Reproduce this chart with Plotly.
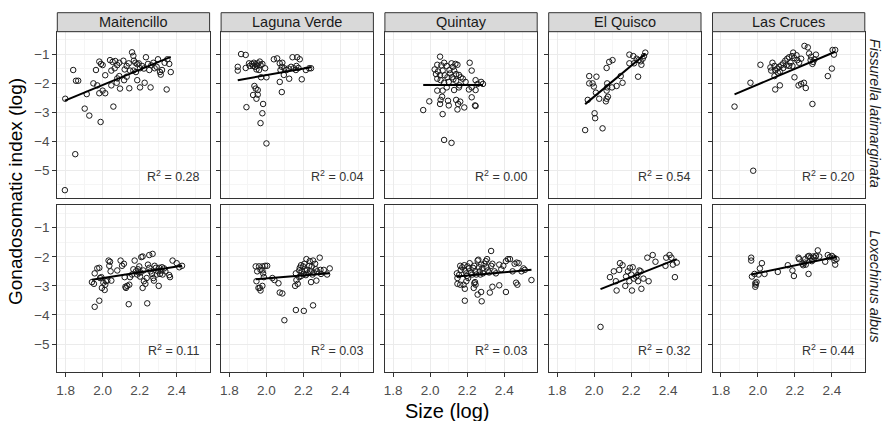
import plotly.graph_objects as go

# ---- data: log size (x) vs log gonadosomatic index (y) per site ----
sites = ["Maitencillo", "Laguna Verde", "Quintay", "El Quisco", "Las Cruces"]
species = ["Fissurella latimarginata", "Loxechinus albus"]

# Fissurella latimarginata
fis_maitencillo_x = [1.796, 1.798, 1.852, 1.841, 1.856, 1.868, 1.903, 1.928, 1.989, 1.914, 1.950, 1.964, 1.982, 1.991, 2.000,
                     1.971, 1.982, 2.000, 2.014, 2.058, 2.014, 2.040, 2.054, 2.068, 2.079, 2.090, 2.047, 2.065, 2.047, 2.079,
                     2.090, 2.076, 2.094, 2.112, 2.119, 2.130, 2.141, 2.148, 2.159, 2.166, 2.169, 2.177, 2.187, 2.166, 2.180,
                     2.195, 2.202, 2.144, 2.187, 2.202, 2.227, 2.259, 2.213, 2.223, 2.234, 2.245, 2.252, 2.263, 2.274, 2.281,
                     2.292, 2.299, 2.310, 2.314, 2.321, 2.335, 2.346, 2.360, 2.368, 2.350, 2.130, 2.116]
fis_maitencillo_y = [-5.68, -2.53, -4.44, -1.54, -1.91, -1.91, -2.87, -3.11, -3.33, -2.37, -2.00, -1.54, -1.25, -1.33, -1.37,
                     -2.07, -2.34, -2.25, -2.34, -2.80, -1.72, -1.20, -1.26, -1.23, -1.37, -1.29, -1.56, -1.48, -2.07, -1.83,
                     -1.75, -1.98, -2.18, -1.22, -1.52, -1.40, -1.31, -1.56, -0.93, -1.05, -1.22, -1.29, -1.34, -1.56, -1.61,
                     -1.31, -1.48, -2.17, -1.89, -2.14, -1.98, -2.14, -1.40, -1.49, -1.10, -1.33, -1.54, -1.38, -1.29, -1.48,
                     -1.43, -1.17, -1.61, -1.70, -1.54, -1.29, -2.21, -1.33, -1.61, -1.17, -1.77, -1.89]

fis_lagunaverde_x = [1.863, 1.888, 1.845, 1.845, 1.888, 1.906, 1.921, 1.932, 1.942, 1.953, 1.964, 1.910, 1.928, 1.939, 1.950,
                     1.968, 1.978, 1.946, 1.960, 1.993, 1.971, 2.000, 2.040, 2.058, 2.072, 2.086, 2.083, 2.097, 2.076, 2.094,
                     2.123, 2.108, 2.119, 2.133, 2.148, 2.159, 2.141, 2.166, 2.180, 2.162, 2.173, 2.191, 2.213, 2.231, 2.241,
                     2.083, 2.072, 1.935, 1.942, 1.953, 1.928, 1.953, 1.946, 1.982, 1.892, 1.978, 1.968, 2.000]
fis_lagunaverde_y = [-0.99, -1.02, -1.43, -1.56, -1.47, -1.31, -1.33, -1.29, -1.34, -1.31, -1.25, -1.40, -1.40, -1.43, -1.39,
                     -1.37, -1.33, -1.52, -1.54, -1.48, -1.79, -1.79, -1.17, -1.14, -1.31, -1.29, -1.43, -1.48, -1.54, -1.71,
                     -1.84, -1.54, -1.49, -1.43, -1.48, -1.54, -1.10, -1.10, -1.17, -1.40, -1.47, -1.86, -1.54, -1.48, -1.48,
                     -2.30, -1.95, -2.09, -2.18, -2.23, -2.40, -2.39, -2.53, -2.71, -2.82, -3.03, -3.37, -4.07]

fis_quintay_x = [2.053, 2.038, 2.060, 2.024, 2.042, 2.031, 2.053, 2.075, 2.089, 2.104, 2.115, 2.122, 2.136, 2.147, 2.129,
                 2.140, 2.155, 2.165, 2.176, 2.067, 2.078, 2.093, 2.107, 2.118, 2.125, 2.038, 2.056, 2.075, 2.100, 2.140,
                 2.191, 2.213, 2.224, 2.245, 2.275, 2.285, 2.256, 2.224, 2.038, 2.067, 2.064, 2.056, 2.089, 2.129, 2.155,
                 2.158, 2.209, 2.245, 2.224, 2.242, 2.245, 1.995, 1.962, 2.053, 2.067, 2.096, 2.100, 2.140, 2.151, 2.147,
                 2.184, 2.162, 2.075, 2.115]
fis_quintay_y = [-1.08, -1.36, -1.38, -1.52, -1.59, -1.68, -1.72, -1.29, -1.40, -1.54, -1.31, -1.43, -1.33, -1.36, -1.56,
                 -1.68, -1.71, -1.79, -1.84, -1.56, -1.72, -1.79, -1.66, -1.79, -1.86, -1.84, -1.89, -1.98, -1.95, -1.91,
                 -1.95, -1.29, -1.56, -1.89, -1.95, -2.02, -2.02, -2.14, -2.25, -2.25, -2.46, -2.57, -2.14, -2.23, -2.14,
                 -2.07, -2.21, -2.23, -2.48, -2.76, -2.78, -2.62, -2.92, -2.71, -3.06, -2.60, -2.76, -2.57, -2.71, -2.90,
                 -2.83, -2.63, -3.95, -4.05]

fis_elquisco_x = [1.952, 2.046, 2.003, 2.006, 1.974, 2.013, 1.974, 1.992, 1.999, 2.010, 2.028, 2.068, 2.064, 2.075, 2.071,
                  2.071, 2.068, 2.097, 2.068, 2.082, 2.100, 2.122, 2.154, 2.144, 2.191, 2.212, 2.230, 2.241, 2.252, 2.263,
                  2.270, 2.277, 2.256, 2.191, 2.238, 2.216, 1.966]
fis_elquisco_y = [-3.61, -3.55, -3.03, -3.20, -1.75, -1.77, -2.00, -2.00, -2.11, -2.32, -2.53, -2.53, -2.62, -2.46, -2.14,
                  -2.00, -2.25, -2.14, -1.47, -1.26, -1.20, -2.09, -1.98, -1.75, -1.01, -1.06, -1.15, -1.20, -1.24, -1.15,
                  -1.06, -0.94, -1.36, -1.31, -1.77, -1.31, -2.57]

fis_lascruces_x = [1.874, 1.975, 1.960, 2.014, 2.068, 2.079, 2.090, 2.072, 2.094, 2.105, 2.115, 2.126, 2.137, 2.148, 2.159,
                   2.169, 2.184, 2.191, 2.198, 2.209, 2.213, 2.223, 2.234, 2.177, 2.155, 2.137, 2.119, 2.108, 2.090, 2.169,
                   2.187, 2.252, 2.270, 2.277, 2.288, 2.299, 2.285, 2.295, 2.306, 2.314, 2.094, 2.119, 2.198, 2.220, 2.234,
                   2.249, 2.259, 2.295, 2.404, 2.411, 2.400, 2.378, 2.418]
fis_lascruces_y = [-2.80, -5.01, -1.98, -1.36, -1.45, -1.29, -1.40, -1.56, -1.54, -1.49, -1.43, -1.38, -1.31, -1.22, -1.15,
                   -1.10, -1.06, -0.94, -1.13, -1.03, -1.20, -1.29, -1.15, -1.29, -1.38, -1.47, -1.59, -1.63, -1.75, -1.40,
                   -1.40, -0.71, -0.76, -0.97, -1.08, -1.26, -1.20, -1.33, -1.17, -1.01, -2.21, -2.07, -1.79, -2.07, -2.02,
                   -1.98, -2.16, -2.71, -0.85, -1.01, -1.49, -1.75, -0.85]

# Loxechinus albus
lox_maitencillo_x = [1.942, 1.953, 1.957, 1.971, 1.982, 1.986, 1.993, 1.996, 2.004, 2.014, 2.018, 2.025, 2.032, 2.040, 2.036,
                     2.043, 2.047, 2.011, 1.957, 1.982, 2.079, 2.097, 2.105, 2.115, 2.119, 2.123, 2.126, 2.133, 2.144, 2.141,
                     2.148, 2.159, 2.166, 2.173, 2.180, 2.187, 2.191, 2.195, 2.198, 2.202, 2.205, 2.209, 2.216, 2.220, 2.216,
                     2.223, 2.231, 2.238, 2.241, 2.245, 2.252, 2.252, 2.259, 2.267, 2.270, 2.274, 2.277, 2.281, 2.288, 2.292,
                     2.299, 2.303, 2.306, 2.310, 2.317, 2.321, 2.324, 2.360, 2.364, 2.378, 2.400, 2.414, 2.429, 2.332, 2.339]
lox_maitencillo_y = [-2.87, -2.93, -2.57, -2.40, -2.38, -2.73, -2.70, -3.07, -2.89, -2.96, -2.84, -2.82, -2.13, -2.17, -2.31,
                     -2.50, -2.82, -3.14, -3.72, -3.51, -2.47, -2.13, -2.31, -2.24, -2.70, -3.03, -3.07, -3.00, -2.96, -3.63,
                     -2.70, -2.61, -2.43, -2.13, -2.50, -2.61, -2.43, -2.54, -2.33, -2.68, -2.54, -2.01, -1.99, -2.47, -3.07,
                     -2.84, -2.93, -2.73, -3.60, -2.27, -1.94, -2.38, -2.50, -2.59, -1.90, -2.73, -2.82, -2.31, -2.38, -2.61,
                     -2.50, -3.00, -2.38, -2.59, -2.47, -2.36, -2.61, -2.63, -2.70, -2.13, -2.22, -2.36, -2.31, -2.40, -2.50]

lox_lagunaverde_x = [1.942, 1.960, 1.978, 1.993, 2.004, 1.968, 1.978, 1.950, 1.982, 1.986, 1.946, 1.978, 1.964, 1.968, 1.957,
                     2.032, 2.043, 2.065, 2.072, 2.086, 2.097, 2.159, 2.162, 2.155, 2.169, 2.177, 2.180, 2.187, 2.191, 2.198,
                     2.202, 2.205, 2.213, 2.216, 2.220, 2.223, 2.231, 2.234, 2.238, 2.241, 2.245, 2.249, 2.252, 2.256, 2.263,
                     2.267, 2.270, 2.274, 2.288, 2.292, 2.295, 2.310, 2.328, 2.342, 2.187, 2.177, 2.209, 2.159, 2.202, 2.252]
lox_lagunaverde_y = [-2.33, -2.33, -2.33, -2.31, -2.31, -2.45, -2.47, -2.50, -2.57, -2.70, -2.84, -3.00, -3.07, -3.16, -3.07,
                     -2.73, -2.80, -2.91, -3.23, -3.26, -4.18, -2.57, -2.80, -3.00, -2.93, -2.70, -2.38, -2.29, -2.50, -2.33,
                     -2.59, -2.24, -2.63, -2.08, -2.45, -2.57, -2.31, -2.15, -2.50, -2.87, -2.33, -2.61, -2.13, -2.54, -2.24,
                     -2.43, -2.82, -2.50, -2.03, -2.45, -2.59, -2.45, -2.61, -2.40, -2.66, -2.47, -2.47, -3.83, -3.86, -3.67]

lox_quintay_x = [2.144, 2.155, 2.147, 2.162, 2.165, 2.173, 2.184, 2.187, 2.195, 2.198, 2.202, 2.209, 2.213, 2.220, 2.227,
                 2.231, 2.238, 2.242, 2.249, 2.256, 2.260, 2.264, 2.267, 2.271, 2.275, 2.282, 2.285, 2.293, 2.300, 2.304,
                 2.307, 2.311, 2.318, 2.329, 2.336, 2.347, 2.355, 2.373, 2.384, 2.395, 2.409, 2.420, 2.431, 2.445, 2.456,
                 2.467, 2.478, 2.493, 2.504, 2.511, 2.547, 2.464, 2.471, 2.409, 2.373, 2.336, 2.322, 2.275, 2.256, 2.187,
                 2.278, 2.235, 2.238, 2.242, 2.245, 2.180, 2.187, 2.195, 2.205, 2.162, 2.147, 2.329]
lox_quintay_y = [-2.57, -2.63, -2.73, -2.31, -2.45, -2.36, -2.29, -2.47, -2.57, -2.66, -2.33, -2.40, -2.22, -2.54, -2.61,
                 -2.38, -2.31, -2.50, -2.61, -2.13, -2.10, -2.36, -2.50, -2.61, -2.27, -2.40, -2.57, -2.24, -2.15, -2.36,
                 -2.08, -2.47, -2.54, -2.31, -2.24, -2.50, -2.57, -2.27, -2.43, -2.31, -2.15, -2.08, -2.08, -2.50, -2.24,
                 -2.20, -2.22, -2.50, -2.40, -2.45, -2.80, -2.89, -2.96, -3.21, -2.98, -3.03, -3.23, -3.21, -3.30, -3.51,
                 -3.53, -3.07, -2.91, -2.87, -2.96, -2.96, -3.10, -2.84, -2.73, -2.96, -2.93, -1.80]

lox_elquisco_x = [2.086, 2.107, 2.118, 2.122, 2.136, 2.140, 2.154, 2.169, 2.173, 2.183, 2.191, 2.194, 2.201, 2.205, 2.209,
                  2.216, 2.227, 2.238, 2.245, 2.252, 2.256, 2.267, 2.288, 2.295, 2.317, 2.332, 2.390, 2.386, 2.408, 2.418,
                  2.426, 2.437, 2.447, 2.234, 2.035]
lox_elquisco_y = [-2.70, -2.50, -2.84, -3.16, -2.45, -2.22, -2.29, -3.00, -2.68, -2.50, -2.84, -2.38, -2.61, -3.16, -2.36,
                  -2.75, -2.68, -2.84, -2.47, -2.50, -3.10, -2.75, -2.03, -2.84, -1.94, -2.17, -2.03, -2.31, -1.94, -2.03,
                  -2.27, -2.70, -2.20, -2.63, -4.41]

lox_lascruces_x = [1.964, 1.964, 1.968, 1.982, 1.986, 1.986, 1.989, 1.993, 2.004, 2.011, 2.022, 2.036, 2.108, 2.162, 2.187,
                   2.195, 2.220, 2.223, 2.245, 2.252, 2.259, 2.270, 2.274, 2.277, 2.285, 2.292, 2.299, 2.306, 2.314, 2.324,
                   2.332, 2.364, 2.378, 2.389, 2.400, 2.411, 2.414, 2.418, 2.425, 2.295, 2.241, 2.256]
lox_lascruces_y = [-2.03, -2.13, -2.68, -2.59, -2.91, -3.03, -2.96, -2.87, -2.61, -2.40, -2.22, -2.59, -2.52, -2.29, -2.47,
                   -2.66, -2.03, -2.08, -2.29, -2.20, -2.27, -1.99, -2.59, -1.97, -2.03, -2.15, -1.99, -2.03, -1.97, -1.78,
                   -1.99, -2.17, -1.94, -2.01, -1.97, -2.03, -2.13, -2.27, -2.08, -2.10, -2.24, -2.08]

# linear fits (intercept, slope) and R² per site
fis_intercept = [-7.316, -3.957, -2.06, -13.08, -7.44]
fis_slope = [2.63, 1.12, 0.0, 5.31, 2.70]
fis_r2 = [0.28, 0.04, 0.00, 0.54, 0.20]
lox_intercept = [-4.715, -3.74, -3.876, -8.198, -5.222]
lox_slope = [0.99, 0.50, 0.56, 2.50, 1.33]
lox_r2 = [0.11, 0.03, 0.03, 0.32, 0.44]

fis_x = [fis_maitencillo_x, fis_lagunaverde_x, fis_quintay_x, fis_elquisco_x, fis_lascruces_x]
fis_y = [fis_maitencillo_y, fis_lagunaverde_y, fis_quintay_y, fis_elquisco_y, fis_lascruces_y]
lox_x = [lox_maitencillo_x, lox_lagunaverde_x, lox_quintay_x, lox_elquisco_x, lox_lascruces_x]
lox_y = [lox_maitencillo_y, lox_lagunaverde_y, lox_quintay_y, lox_elquisco_y, lox_lascruces_y]

# ---- layout geometry (pixels) ----
W, H = 882, 421
FONT = "Liberation Sans, Arial, sans-serif"
panel_left = [57.3, 221.1, 384.9, 548.7, 712.5]
panel_w = 152.3
row_top = [31.7, 205.0]
row_bot = [198.0, 371.7]
strip_top = 12.7
x_range = [1.755, 2.578]
y_range = [-5.95, -0.22]


def px_x(p):
    return p / W


def px_y(p):
    return 1 - p / H


fig = go.Figure()
layout = {}
annotations = []
shapes = []

rows = [(fis_x, fis_y, fis_intercept, fis_slope, fis_r2),
        (lox_x, lox_y, lox_intercept, lox_slope, lox_r2)]

for r, (xs, ys, b0, b1, r2) in enumerate(rows):
    for c in range(5):
        k = r * 5 + c + 1
        xname = "x" if k == 1 else f"x{k}"
        yname = "y" if k == 1 else f"y{k}"
        xkey = "xaxis" if k == 1 else f"xaxis{k}"
        ykey = "yaxis" if k == 1 else f"yaxis{k}"

        fig.add_trace(go.Scatter(
            x=xs[c], y=ys[c], mode="markers", xaxis=xname, yaxis=yname,
            marker=dict(symbol="circle-open", size=5.5, color="#1a1a1a", line=dict(width=1, color="#1a1a1a")),
            showlegend=False, hoverinfo="skip"))

        lo, hi = min(xs[c]), max(xs[c])
        fig.add_trace(go.Scatter(
            x=[lo, hi], y=[b0[c] + b1[c] * lo, b0[c] + b1[c] * hi],
            mode="lines", xaxis=xname, yaxis=yname,
            line=dict(color="black", width=2), showlegend=False, hoverinfo="skip"))

        x0 = px_x(panel_left[c])
        x1 = px_x(panel_left[c] + panel_w)
        layout[xkey] = dict(
            domain=[x0, x1], anchor=yname, range=x_range,
            tick0=1.8, dtick=0.2, tickformat=".1f",
            showticklabels=(r == 1), ticks="outside" if r == 1 else "",
            ticklen=4, tickwidth=1, tickcolor="#333333", ticklabelstandoff=2,
            tickfont=dict(family=FONT, size=13.5, color="#4d4d4d"),
            showgrid=True, gridcolor="#ebebeb", gridwidth=1,
            minor=dict(dtick=0.1, tick0=1.8, showgrid=True, gridcolor="#f5f5f5", gridwidth=1),
            zeroline=False, showline=True, mirror=True, linecolor="#333333", linewidth=1,
        )
        layout[ykey] = dict(
            domain=[px_y(row_bot[r]), px_y(row_top[r])], anchor=xname, range=y_range,
            tick0=-1, dtick=1,
            showticklabels=(c == 0), ticks="outside", ticklen=4, tickwidth=1, tickcolor="#333333",
            tickfont=dict(family=FONT, size=13.5, color="#4d4d4d"),
            showgrid=True, gridcolor="#ebebeb", gridwidth=1,
            minor=dict(dtick=0.5, tick0=-1, showgrid=True, gridcolor="#f5f5f5", gridwidth=1),
            zeroline=False, showline=True, mirror=True, linecolor="#333333", linewidth=1,
        )

        annotations.append(dict(
            text=f"R<sup>2</sup> = {r2[c]:.2f}", xref=f"{xname} domain", yref=f"{yname} domain",
            x=0.95, y=0.13, xanchor="right", yanchor="middle", showarrow=False,
            font=dict(family=FONT, size=12.5, color="#333333")))

# site strips above the top row
for c, name in enumerate(sites):
    shapes.append(dict(type="rect", xref="paper", yref="paper",
                       x0=px_x(panel_left[c]), x1=px_x(panel_left[c] + panel_w),
                       y0=px_y(row_top[0]), y1=px_y(strip_top),
                       fillcolor="#d9d9d9", line=dict(color="#333333", width=1), layer="above"))
    annotations.append(dict(text=name, xref="paper", yref="paper",
                            x=px_x(panel_left[c] + panel_w / 2), y=px_y((strip_top + row_top[0]) / 2),
                            xanchor="center", yanchor="middle", showarrow=False,
                            font=dict(family=FONT, size=14.5, color="#1a1a1a")))

# species labels on the right
for r, name in enumerate(species):
    annotations.append(dict(text=f"<i>{name}</i>", xref="paper", yref="paper",
                            x=px_x(875), y=px_y((row_top[r] + row_bot[r]) / 2 - 2),
                            xanchor="center", yanchor="middle", textangle=90, showarrow=False,
                            font=dict(family=FONT, size=14.5, color="#1a1a1a")))

# axis titles
annotations.append(dict(text="Size (log)", xref="paper", yref="paper",
                        x=px_x(447), y=px_y(411), xanchor="center", yanchor="middle", showarrow=False,
                        font=dict(family=FONT, size=20, color="black")))
annotations.append(dict(text="Gonadosomatic index (log)", xref="paper", yref="paper",
                        x=px_x(16), y=px_y(192), xanchor="center", yanchor="middle", textangle=-90,
                        showarrow=False, font=dict(family=FONT, size=19, color="black")))

fig.update_layout(
    width=W, height=H, margin=dict(l=0, r=0, t=0, b=0),
    paper_bgcolor="white", plot_bgcolor="white",
    annotations=annotations, shapes=shapes, **layout)

fig.write_html("out.html")
